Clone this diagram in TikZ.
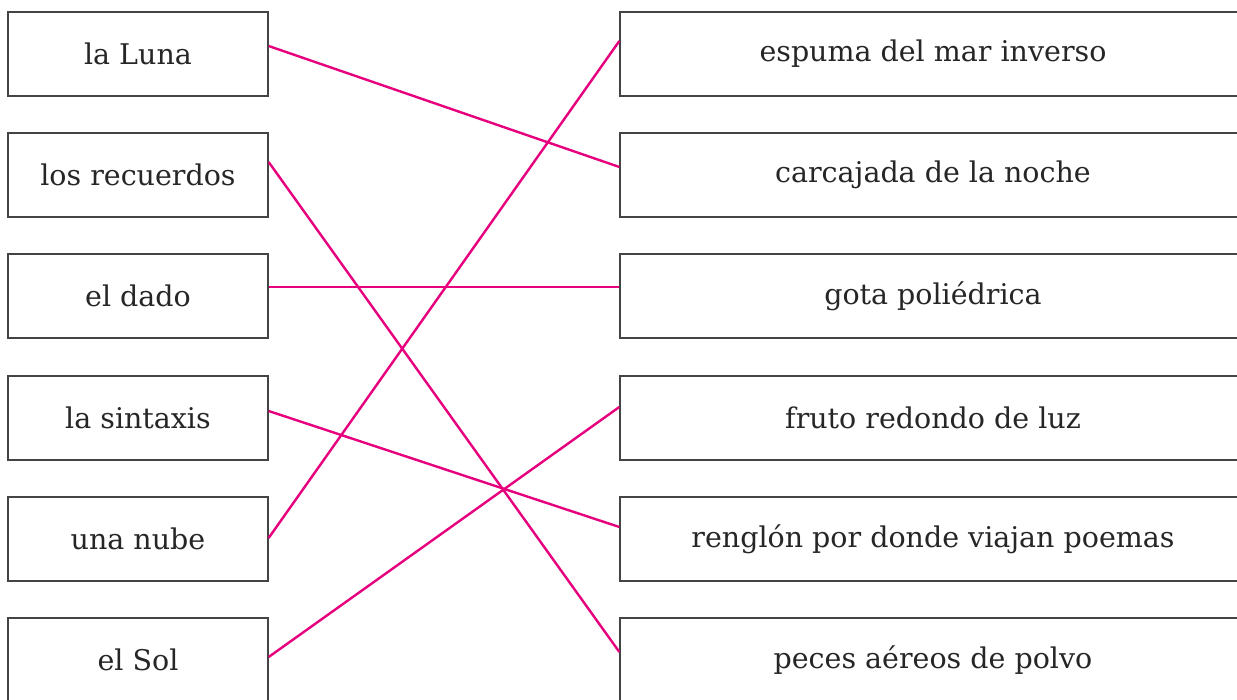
\documentclass[tikz,border=0pt]{standalone}
\usepackage{fontspec}
\setmainfont{DejaVu Serif}
\definecolor{mag}{HTML}{E6007E}
\definecolor{boxline}{HTML}{444444}
\definecolor{txt}{HTML}{262626}
\begin{document}
\begin{tikzpicture}[x=1pt,y=-1pt,
  lbox/.style={draw=boxline,line width=1.3pt,minimum width=260pt,minimum height=84pt,inner sep=0pt,text=txt,font=\fontsize{28.5}{32}\selectfont},
  rbox/.style={lbox,minimum width=626pt},
  link/.style={draw=mag,line width=2.4pt}]
\useasboundingbox (0,0) rectangle (1237,700);
\clip (0,0) rectangle (1237,700);
\fill[white] (0,0) rectangle (1237,700);
\node[lbox] (l1) at (138,54) {la Luna};
\node[lbox] (l2) at (138,175) {los recuerdos};
\node[lbox] (l3) at (138,296) {el dado};
\node[lbox] (l4) at (138,418) {la sintaxis};
\node[lbox] (l5) at (138,539) {una nube};
\node[lbox] (l6) at (138,660) {el Sol};
\node[rbox] (r1) at (933,54) {espuma del mar inverso};
\node[rbox] (r2) at (933,175) {carcajada de la noche};
\node[rbox] (r3) at (933,296) {gota poliédrica};
\node[rbox] (r4) at (933,418) {fruto redondo de luz};
\node[rbox] (r5) at (933,539) {renglón por donde viajan poemas};
\node[rbox] (r6) at (933,660) {peces aéreos de polvo};
\draw[link] ([yshift=8pt]l1.east) -- ([yshift=8pt]r2.west);
\draw[link] ([yshift=13pt]l2.east) -- ([yshift=8pt]r6.west);
\draw[link] ([yshift=9pt]l3.east) -- ([yshift=9pt]r3.west);
\draw[link] ([yshift=7pt]l4.east) -- ([yshift=12pt]r5.west);
\draw[link] ([yshift=1pt]l5.east) -- ([yshift=13pt]r1.west);
\draw[link] ([yshift=3pt]l6.east) -- ([yshift=11pt]r4.west);
\end{tikzpicture}
\end{document}
